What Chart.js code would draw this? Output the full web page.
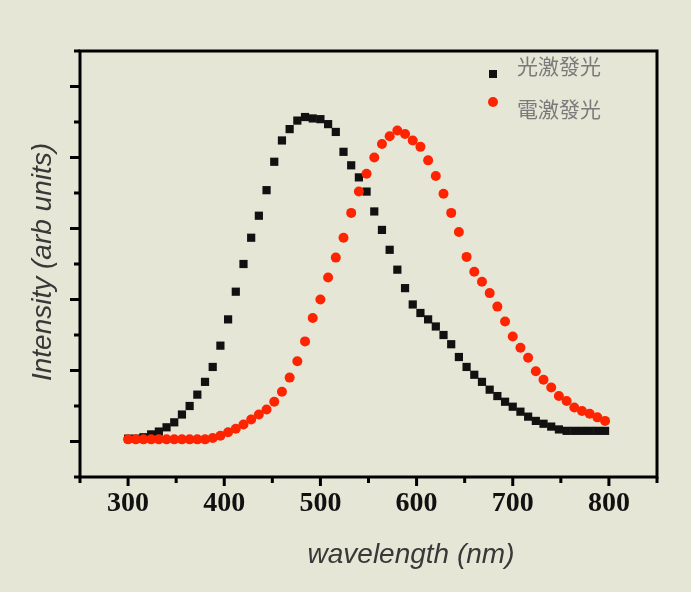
<!DOCTYPE html>
<html>
<head>
<meta charset="utf-8">
<script src="https://cdn.jsdelivr.net/npm/chart.js@4.4.0/dist/chart.umd.min.js"></script>
<style>
  html, body { margin: 0; padding: 0; background: #e6e6d6; }
  canvas { display: block; }
</style>
</head>
<body>
<canvas id="grafico" width="691" height="592"></canvas>
<script>
// Longitud de onda (nm)
var longitudes = [300, 308, 316, 324, 332, 340, 348, 356, 364, 372, 380, 388, 396, 404, 412, 420,
  428, 436, 444, 452, 460, 468, 476, 484, 492, 500, 508, 516, 524, 532, 540, 548, 556, 564, 572,
  580, 588, 596, 604, 612, 620, 628, 636, 644, 652, 660, 668, 676, 684, 692, 700, 708, 716, 724,
  732, 740, 748, 756, 764, 772, 780, 788, 796];

// 光激發光 (negro)
var fotoluminiscencia = [4, 4, 6, 10, 14, 20, 27, 38, 50, 66, 84, 105, 135, 172, 211, 250,
  287, 318, 354, 394, 424, 440, 452, 457, 455, 454, 447, 436, 408, 389, 372, 352, 324, 298, 270,
  242, 216, 193, 181, 172, 162, 150, 137, 119, 105, 94, 84, 73, 64, 56, 49, 42, 35, 29,
  25, 21, 17, 15, 15, 15, 15, 15, 15];

// 電激發光 (rojo)
var electroluminiscencia = [3, 3, 3, 3, 3, 3, 3, 3, 3, 3, 3, 5, 8, 13, 18, 24,
  31, 38, 45, 56, 70, 90, 113, 141, 174, 200, 231, 259, 287, 322, 352, 377, 400, 419, 430,
  438, 433, 424, 415, 396, 374, 349, 322, 295, 260, 239, 225, 209, 190, 169, 148, 132, 118, 99,
  87, 76, 64, 57, 48, 43, 39, 34, 29];

var etiquetasX = [300, 400, 500, 600, 700, 800];
var marcasX = [250, 300, 350, 400, 450, 500, 550, 600, 650, 700, 750, 800, 850];
var marcasY = [-50, 0, 50, 100, 150, 200, 250, 300, 350, 400, 450, 500, 550];
var marcasYMayores = [0, 100, 200, 300, 400, 500];

var tituloX = 'wavelength (nm)';
var tituloY = 'Intensity (arb units)';

function puntos(valores) {
  return longitudes.map(function(l, i) {
    return { x: l, y: valores[i] };
  });
}

/* Marco, marcas de los ejes, títulos y leyenda */
var marcoPlugin = {
  id: 'marco',
  afterDraw: function(chart) {
    var ctx = chart.ctx;
    var area = chart.chartArea;
    var ejeX = chart.scales.x;
    var ejeY = chart.scales.y;
    ctx.save();
    ctx.strokeStyle = '#000';
    ctx.lineWidth = 3;
    ctx.strokeRect(area.left, area.top, area.right - area.left, area.bottom - area.top);
    ctx.beginPath();
    marcasX.forEach(function(v) {
      var px = ejeX.getPixelForValue(v);
      var largo = etiquetasX.indexOf(v) >= 0 ? 9 : 6;
      ctx.moveTo(px, area.bottom);
      ctx.lineTo(px, area.bottom + largo);
    });
    marcasY.forEach(function(v) {
      var py = ejeY.getPixelForValue(v);
      var largo = marcasYMayores.indexOf(v) >= 0 ? 10 : 6;
      ctx.moveTo(area.left, py);
      ctx.lineTo(area.left - largo, py);
    });
    ctx.stroke();

    // títulos
    ctx.fillStyle = '#383838';
    ctx.font = 'italic 28px "Liberation Sans", Arial, sans-serif';
    ctx.textAlign = 'center';
    ctx.textBaseline = 'alphabetic';
    ctx.fillText(tituloX, 411, 563);
    ctx.save();
    ctx.translate(51, 262);
    ctx.rotate(-Math.PI / 2);
    ctx.fillText(tituloY, 0, 0);
    ctx.restore();

    // leyenda
    var marcaY = [74, 102];
    var textoY = [66, 109];
    ctx.font = '21px "Noto Sans CJK TC", sans-serif';
    ctx.textAlign = 'left';
    ctx.textBaseline = 'middle';
    chart.data.datasets.forEach(function(ds, i) {
      ctx.fillStyle = ds.backgroundColor;
      if (ds.pointStyle === 'rect') {
        ctx.fillRect(489, marcaY[i] - 4, 8, 8);
      } else {
        ctx.beginPath();
        ctx.arc(493, marcaY[i], 5, 0, Math.PI * 2);
        ctx.fill();
      }
      ctx.fillStyle = '#7a7a7a';
      ctx.fillText(ds.label, 517, textoY[i]);
    });
    ctx.restore();
  }
};

var ctx = document.getElementById('grafico');
var grafico = new Chart(ctx, {
  type: 'scatter',
  data: {
    datasets: [{
      label: '光激發光',
      data: puntos(fotoluminiscencia),
      pointStyle: 'rect',
      pointRadius: 5.8,
      backgroundColor: '#111111',
      borderWidth: 0,
      order: 1
    }, {
      label: '電激發光',
      data: puntos(electroluminiscencia),
      pointStyle: 'circle',
      pointRadius: 5,
      backgroundColor: '#ff2400',
      borderWidth: 0,
      order: 0
    }]
  },
  options: {
    responsive: false,
    devicePixelRatio: 1,
    animation: false,
    layout: { padding: { left: 80, right: 34, top: 51, bottom: 55 } },
    plugins: {
      legend: { display: false },
      tooltip: { enabled: false }
    },
    scales: {
      x: {
        type: 'linear',
        min: 250,
        max: 850,
        grid: { display: false, drawTicks: false },
        border: { display: false },
        afterBuildTicks: function(scale) {
          scale.ticks = etiquetasX.map(function(v) { return { value: v }; });
        },
        afterFit: function(scale) { scale.height = 60; },
        ticks: {
          padding: 10,
          maxRotation: 0,
          color: '#111',
          font: { family: '"Liberation Serif", "Times New Roman", serif', weight: 'bold', size: 28 }
        }
      },
      y: {
        min: -50,
        max: 550,
        grid: { display: false, drawTicks: false },
        border: { display: false },
        ticks: { display: false },
        afterFit: function(scale) { scale.width = 0; }
      }
    }
  },
  plugins: [marcoPlugin]
});
</script>
</body>
</html>
